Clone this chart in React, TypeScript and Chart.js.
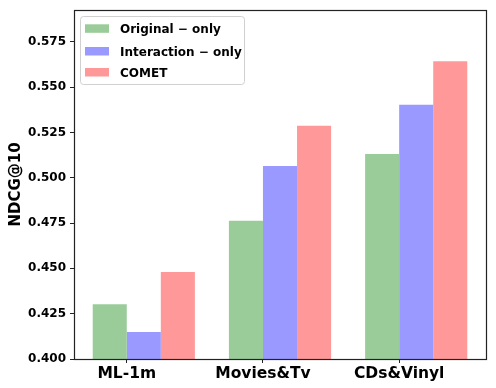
import React, { useEffect, useRef } from "react";
import { Chart, registerables } from "chart.js";

Chart.register(...registerables);

const categories = ["ML-1m", "Movies&Tv", "CDs&Vinyl"];
const originalOnly = [0.4302, 0.4762, 0.5131];
const interactionOnly = [0.4149, 0.5065, 0.5402];
const comet = [0.448, 0.5286, 0.5643];
const yTicks = [0.4, 0.425, 0.45, 0.475, 0.5, 0.525, 0.55, 0.575];
const seriesNames = ["Original \u2212 only", "Interaction \u2212 only", "COMET"];
const seriesColors = ["rgb(153,204,153)", "rgb(153,153,255)", "rgb(255,153,153)"];

const FONT = "'DejaVu Sans', sans-serif";

const framePlugin = {
  id: "frame",
  afterDatasetsDraw(chart: any) {
    const { ctx, chartArea } = chart;
    ctx.save();
    ctx.strokeStyle = "#222";
    ctx.lineWidth = 1.2;
    ctx.strokeRect(
      Math.round(chartArea.left) + 0.5,
      Math.round(chartArea.top) + 0.5,
      Math.round(chartArea.right - chartArea.left),
      Math.round(chartArea.bottom - chartArea.top)
    );
    // legend
    const x0 = 80.5, y0 = 16.5, w = 164, h = 68;
    ctx.beginPath();
    (ctx as any).roundRect(x0, y0, w, h, 3);
    ctx.fillStyle = "rgba(255,255,255,0.8)";
    ctx.fill();
    ctx.strokeStyle = "#d0d0d0";
    ctx.lineWidth = 1;
    ctx.stroke();
    const swY = [24.3, 47, 68];
    const txY = [33, 56, 77];
    ctx.font = `bold 12px ${FONT}`;
    ctx.textBaseline = "alphabetic";
    ctx.textAlign = "left";
    for (let i = 0; i < seriesNames.length; i++) {
      ctx.fillStyle = seriesColors[i];
      ctx.fillRect(85, swY[i], 24, 8.5);
      ctx.fillStyle = "#000";
      ctx.fillText(seriesNames[i], 120, txY[i]);
    }
    ctx.restore();
  },
};

export default function App() {
  const ref = useRef<HTMLCanvasElement>(null);
  useEffect(() => {
    if (!ref.current) return;
    const mk = (arr: number[]) => arr.map((v, i) => ({ x: i, y: v }));
    const chart = new Chart(ref.current, {
      type: "bar",
      data: {
        datasets: [
          { label: seriesNames[0], data: mk(originalOnly) as any, backgroundColor: seriesColors[0] },
          { label: seriesNames[1], data: mk(interactionOnly) as any, backgroundColor: seriesColors[1] },
          { label: seriesNames[2], data: mk(comet) as any, backgroundColor: seriesColors[2] },
        ],
      },
      options: {
        animation: false,
        responsive: false,
        maintainAspectRatio: false,
        layout: { padding: { left: 0, top: 10, right: 10, bottom: 0 } },
        datasets: { bar: { categoryPercentage: 0.75, barPercentage: 1 } } as any,
        plugins: { legend: { display: false }, tooltip: { enabled: false } },
        scales: {
          x: {
            type: "linear",
            min: -0.5125,
            max: 2.5125,
            offset: false,
            grid: { display: true, drawOnChartArea: false, drawTicks: true, tickLength: 4, color: "#222", offset: false } as any,
            border: { display: false },
            afterBuildTicks: (scale: any) => {
              scale.ticks = categories.map((_, i) => ({ value: i - 0.125 }));
            },
            ticks: {
              autoSkip: false,
              maxRotation: 0,
              padding: 2,
              color: "#000",
              font: { family: FONT, weight: "bold", size: 15.5 },
              callback: (_v: any, idx: number) => categories[idx],
            },
            afterFit: (scale: any) => {
              scale.height = 29;
              scale.paddingLeft = 0;
              scale.paddingRight = 0;
            },
          },
          y: {
            type: "linear",
            min: 0.4,
            max: 0.5925,
            grid: { display: true, drawOnChartArea: false, drawTicks: true, tickLength: 4, color: "#222" },
            border: { display: false },
            afterBuildTicks: (scale: any) => {
              scale.ticks = yTicks.map((v) => ({ value: v }));
            },
            ticks: {
              padding: 4,
              color: "#000",
              font: { family: FONT, weight: "bold", size: 12 },
              callback: (v: any) => Number(v).toFixed(3),
            },
            title: {
              display: true,
              text: "NDCG@10",
              color: "#000",
              font: { family: FONT, weight: "bold", size: 15 },
              padding: { top: 7, bottom: 0 },
            },
            afterFit: (scale: any) => {
              scale.width = 74;
              scale.paddingTop = 0;
              scale.paddingBottom = 0;
            },
          },
        },
      },
      plugins: [framePlugin],
    });
    return () => chart.destroy();
  }, []);
  return (
    <div style={{ position: "fixed", left: 0, top: 0, width: 496, height: 388, background: "#fff" }}>
      <canvas ref={ref} width={496} height={388} style={{ display: "block" }} />
    </div>
  );
}
